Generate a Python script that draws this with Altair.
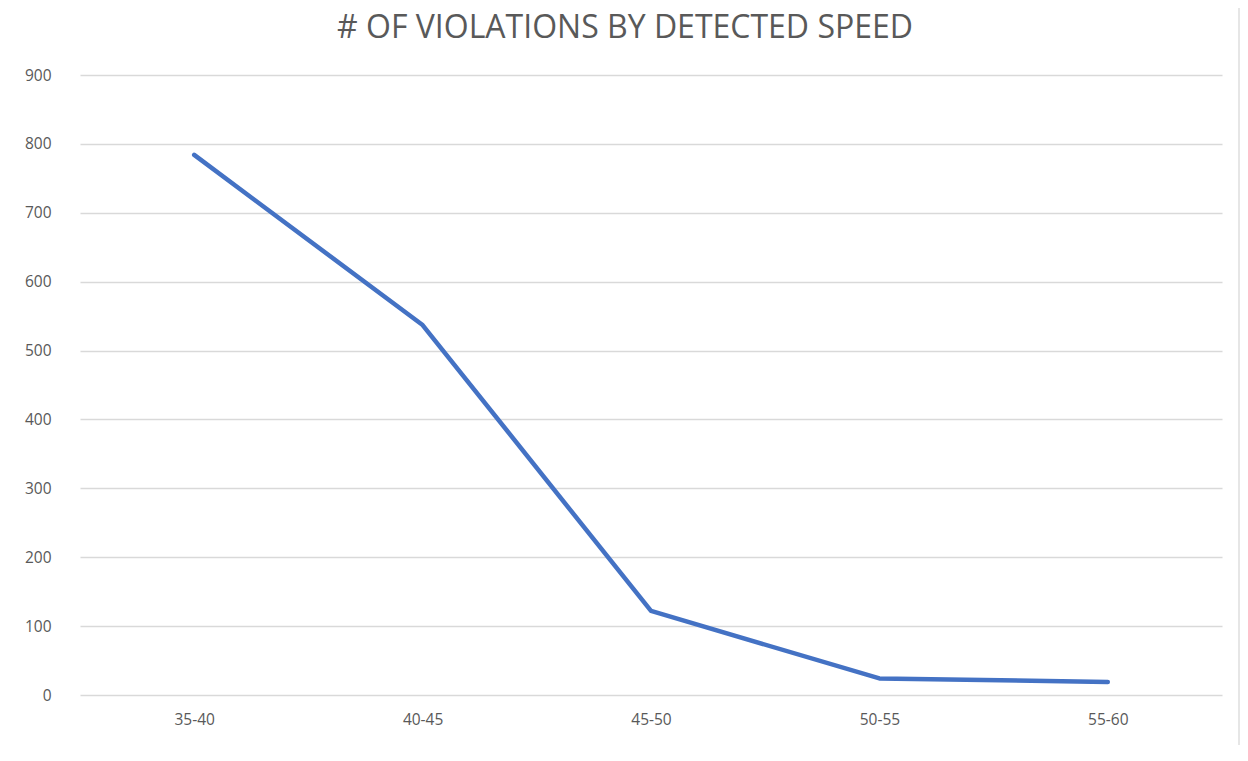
import altair as alt
import pandas as pd

categories = ["35-40", "40-45", "45-50", "50-55", "55-60"]
violations = [784, 537, 122, 24, 19]
title_text = "# OF VIOLATIONS BY DETECTED SPEED"

df = pd.DataFrame({"speed": categories, "count": violations})

FONT = "Open Sans"
GREY = "#595959"

line = alt.Chart(df).mark_line(color="#4472C4", strokeWidth=4.5, strokeCap="round", strokeJoin="round").encode(
    x=alt.X("speed:N", sort=categories, title=None,
            scale=alt.Scale(paddingInner=0, paddingOuter=0.5),
            axis=alt.Axis(labelAngle=0, ticks=False, domain=False, grid=False,
                          labelFont=FONT, labelFontSize=15.5, labelColor=GREY, labelPadding=17)),
    y=alt.Y("count:Q", title=None,
            scale=alt.Scale(domain=[0, 900], nice=False),
            axis=alt.Axis(values=list(range(0, 1000, 100)), ticks=False, domain=False,
                          gridColor="#d9d9d9", gridWidth=1.3,
                          labelFont=FONT, labelFontSize=15.5, labelColor=GREY, labelPadding=29)),
)

border = alt.Chart(df).mark_rect(filled=False, stroke="#e6e6e6", strokeWidth=1.5).encode(
    x=alt.value(-76), x2=alt.value(1159), y=alt.value(-70), y2=alt.value(684)
)

title = alt.Chart(pd.DataFrame({"t": [title_text]})).mark_text(
    font=FONT, fontSize=32, color=GREY, align="center", baseline="middle"
).encode(text="t:N", x=alt.value(545), y=alt.value(-47))

chart = alt.layer(border, line, title).properties(
    width=1142, height=620,
    autosize=alt.AutoSizeParams(type="none"),
    padding={"left": 72, "top": 67, "right": 18, "bottom": 50},
).configure(background="white").configure_view(stroke=None, strokeWidth=0)

chart.save("out.html", embed_options={"renderer": "svg", "actions": False})
